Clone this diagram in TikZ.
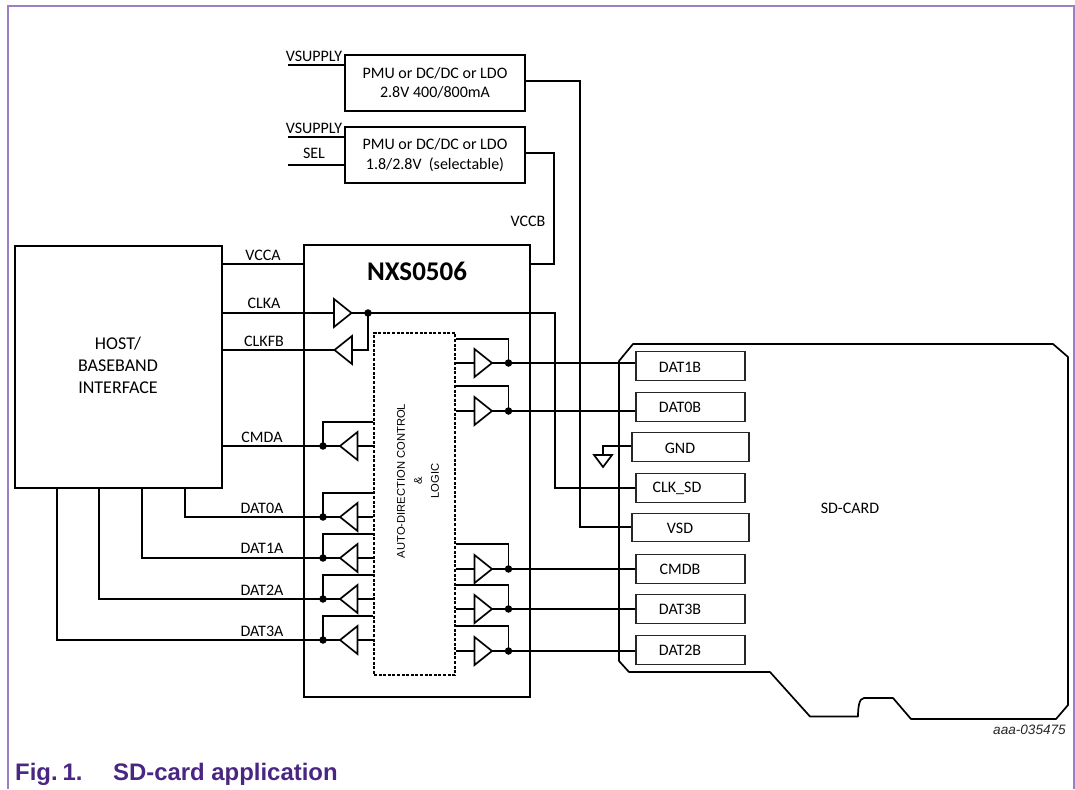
\documentclass[tikz,border=0pt]{standalone}
\usepackage{fontspec}
\setmainfont{Carlito}
\newfontfamily\arialf{Liberation Sans}
\definecolor{framepurple}{HTML}{9B7FC4}
\definecolor{nxppurple}{HTML}{4A2683}
\tikzset{
  wire/.style={draw=black,line width=1.7pt},
  boxn/.style={draw=black,line width=1.7pt,fill=white,inner sep=0pt,align=center,font=\fontsize{16}{19.5}\selectfont},
  pin/.style={draw=black!85,line width=1.2pt,fill=white,inner sep=0pt,minimum height=28.5pt},
  lab/.style={inner sep=0pt,font=\fontsize{16}{19}\selectfont},
  dotn/.style={circle,fill=black,inner sep=0pt,minimum size=7.5pt},
  bufr/.style={wire,line join=miter,fill=white},
}
\newcommand{\bufright}[2]{\draw[bufr] (#1,#2-14) -- (#1+17.5,#2) -- (#1,#2+14) -- cycle;}
\newcommand{\bufleft}[2]{\draw[bufr] (#1,#2-14) -- (#1-17.5,#2) -- (#1,#2+14) -- cycle;}
\begin{document}
\begin{tikzpicture}[x=1pt,y=-1pt]
\useasboundingbox (0,0) rectangle (1075,789);
% frame
\draw[framepurple,line width=1.1pt] (8,789) -- (8,6) -- (1074,6) -- (1074,789);
% SD card
\draw[wire,line join=round] (619,361) -- (633,344) -- (1053,344) -- (1068,357) -- (1068,705) -- (1056,719) -- (911,719) -- (893,698) -- (864,698) .. controls (859,698) and (858,708) .. (858,716.5) -- (810,716.5) -- (770,672) -- (629,672) -- (619,661) -- cycle;
% main boxes
\node[boxn,minimum width=180pt,minimum height=56pt] (pmua) at (435,83) {PMU or DC/DC or LDO\\2.8V 400/800mA};
\node[boxn,minimum width=180pt,minimum height=56pt] (pmub) at (435,155) {PMU or DC/DC or LDO\\1.8/2.8V\ \ (selectable)};
\node[boxn,minimum width=207pt,minimum height=242pt,font=\fontsize{18}{22}\selectfont] (host) at (118.5,367) {};
\node[inner sep=0pt,align=center,font=\fontsize{18}{22}\selectfont] (hostt) at (118,365.5) {HOST/\\BASEBAND\\INTERFACE};
\node[draw=black,line width=1.7pt,minimum width=226pt,minimum height=452pt,inner sep=0pt] (nxs) at (417,471) {};
\node[inner sep=0pt,font=\fontsize{27}{30}\selectfont\bfseries] (nxst) at (417,271) {NXS0506};
% auto box
\node[draw=black,dash pattern=on 3pt off 1.6pt,line width=1.3pt,minimum width=81pt,minimum height=342pt,inner sep=0pt] (auto) at (414.5,504) {};
\node[rotate=90,inner sep=0pt,align=center,font=\arialf\fontsize{11.2}{17}\selectfont] (autot) at (418,481) {AUTO-DIRECTION CONTROL\\\&\\LOGIC};
% pins
\node[pin,minimum width=109pt] (p1) at (690.5,366) {};
\node[pin,minimum width=109pt] (p0) at (690.5,407) {};
\node[pin,minimum width=117pt] (pg) at (690.5,447) {};
\node[pin,minimum width=109pt] (pc) at (690.5,488) {};
\node[pin,minimum width=117pt] (pv) at (690.5,527.5) {};
\node[pin,minimum width=109pt] (pm) at (690.5,569) {};
\node[pin,minimum width=109pt] (p3) at (690.5,609) {};
\node[pin,minimum width=109pt] (p2) at (690.5,650) {};
\node[lab] (t1) at (680,367) {DAT1B};
\node[lab] (t0) at (680,407) {DAT0B};
\node[lab] (tg) at (680,448) {GND};
\node[lab] (tc) at (677,488) {CLK\_SD};
\node[lab] (tv) at (680,528) {VSD};
\node[lab] (tm) at (680,569) {CMDB};
\node[lab] (t3) at (680,609) {DAT3B};
\node[lab] (t2) at (680,650) {DAT2B};
\node[lab] (sd) at (850,508) {SD-CARD};
% supply
\coordinate (va) at (288,65); \coordinate (vb) at (288,137); \coordinate (vs) at (288,165);
\draw[wire] (va) -- (va -| pmua.west);
\draw[wire] (vb) -- (vb -| pmub.west);
\draw[wire] (vs) -- (vs -| pmub.west);
\node[lab] (l1) at (314,56) {VSUPPLY};
\node[lab] (l2) at (314,128) {VSUPPLY};
\node[lab] (l3) at (314,153) {SEL};
\draw[wire] (pmua.east |- 0,81) -- (580,81) -- (580,527) -- (pv.west |- 0,527);
\draw[wire] (pmub.east |- 0,153) -- (554,153) -- (554,264) -- (nxs.east |- 0,264);
\node[lab] (vccb) at (528,221) {VCCB};
% host side wires
\draw[wire] (host.east |- 0,264) -- (nxs.west |- 0,264);
\node[lab] (vcca) at (263,255) {VCCA};
\node[lab] (clka) at (264,303) {CLKA};
\node[lab] (clkfb) at (264,341) {CLKFB};
\node[lab] (cmda) at (262,437) {CMDA};
\node[lab] (d0a) at (262,508) {DAT0A};
\node[lab] (d1a) at (262,548) {DAT1A};
\node[lab] (d2a) at (262,590) {DAT2A};
\node[lab] (d3a) at (262,631) {DAT3A};
% clock
\node[dotn] (dc) at (368,313) {};
\draw[wire] (host.east |- 0,313) -- (dc.center) -- (555,313) -- (555,488) -- (pc.west);
\draw[wire] (dc.center) -- (368,350) -- (host.east |- 0,350);
\bufright{334}{313}
\bufleft{352}{350}
% left channels
\foreach \y/\f/\hx/\nm in {446/422/222/cm,517/493/185/d0,558/534/142/d1,599/575/99/d2,640/616/57/d3}{
  \node[dotn] (\nm) at (323,\y) {};
  \coordinate (\nm h) at (\hx,\y);
  \draw[wire] (auto.west |- 0,\f) -- (323,\f) -- (\nm.center);
  \draw[wire] (auto.west |- 0,\y) -- (\nm.center);
  \bufleft{357.5}{\y}
}
\draw[wire] (host.east |- cm) -- (cm.center);
\draw[wire] (185,488) -- (d0h) -- (d0.center);
\draw[wire] (142,488) -- (d1h) -- (d1.center);
\draw[wire] (99,488) -- (d2h) -- (d2.center);
\draw[wire] (57,488) -- (d3h) -- (d3.center);
% right channels
\foreach \y/\f/\tn/\nm in {363/339/p1/r1,411/386/p0/r0,569/544/pm/rm,609/585/p3/r3,651/626/p2/r2}{
  \node[dotn] (\nm) at (508.5,\y) {};
  \draw[wire] (auto.east |- 0,\f) -- (508.5,\f) -- (\nm.center);
  \draw[wire] (auto.east |- 0,\y) -- (\nm.center) -- (\tn.west |- 0,\y);
  \bufright{474.5}{\y}
}
% ground
\coordinate (ga) at (603,446); \coordinate (gb) at (603,455);
\draw[wire] (pg.west |- ga) -- (ga) -- (gb);
\draw[wire] (594,455) -- (612,455) -- (603,467) -- cycle;
% caption
\node[anchor=east,inner sep=0pt,font=\arialf\itshape\fontsize{13.6}{16}\selectfont,text=black!85] (ref) at (1066,730) {aaa-035475};
\node[anchor=west,inner sep=0pt,font=\arialf\bfseries\fontsize{23.9}{27}\selectfont,text=nxppurple] (fig) at (15,774) {Fig.\hspace{-4pt} 1.};
\node[anchor=west,inner sep=0pt,font=\arialf\bfseries\fontsize{23.9}{27}\selectfont,text=nxppurple] (cap) at (113,774) {SD-card application};
\end{tikzpicture}
\end{document}
